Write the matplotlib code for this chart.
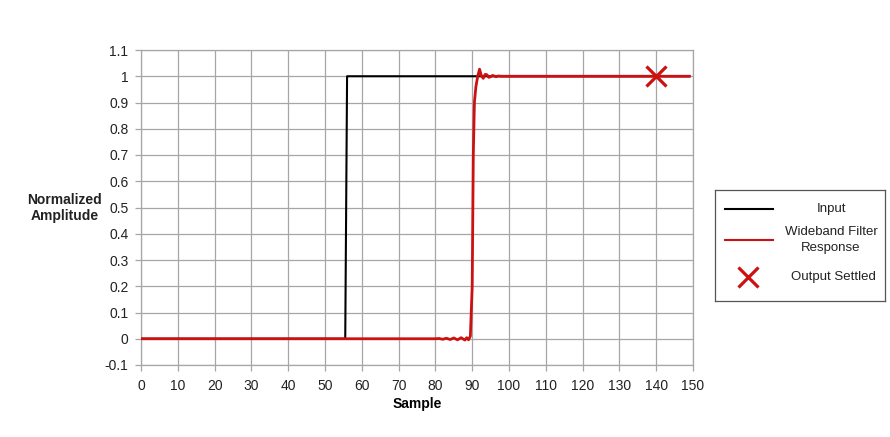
import numpy as np
import matplotlib.pyplot as plt

plt.rcParams['font.family'] = ['Liberation Sans', 'DejaVu Sans']

# input step: 0 up to sample 55.5, 1 from sample 56
input_x = [0, 55.5, 56, 149]
input_y = [0, 0, 1, 1]

# wideband filter response
resp_x = [0, 80, 81, 82, 83, 84, 85, 86, 87, 88, 88.5, 89, 89.5, 90, 90.3, 90.6,
          91, 91.5, 92, 92.5, 93, 93.5, 94, 94.5, 95, 95.5, 96, 96.5, 97, 98, 149]
resp_y = [0, 0, 0.001, -0.002, 0.002, -0.003, 0.003, -0.004, 0.004, -0.005, 0.004,
          -0.004, 0.01, 0.2, 0.7, 0.9, 0.96, 1.0, 1.027, 1.002, 0.992, 1.007, 1.006,
          0.996, 0.998, 1.003, 1.001, 0.998, 1.001, 1.0, 1.0]

settled_x = [140]
settled_y = [1.0]

xticks = np.arange(0, 151, 10)
yticks = np.round(np.arange(-0.1, 1.11, 0.1), 1)
ytick_labels = ['-0.1', '0', '0.1', '0.2', '0.3', '0.4', '0.5', '0.6', '0.7',
                '0.8', '0.9', '1', '1.1']

red = '#cc1111'
grid_c = '#a6a6a6'
fs = 10

fig = plt.figure(figsize=(8.9, 4.37), dpi=100)
ax = fig.add_axes([141/890, 1-365/437, (693-141)/890, (365-50)/437])

ax.plot(input_x, input_y, color='black', lw=1.5, zorder=3)
ax.plot(resp_x, resp_y, color=red, lw=2.0, zorder=4)
ax.plot(settled_x, settled_y, 'x', color=red, ms=15, mew=2.3, zorder=5)

ax.set_xlim(0, 150)
ax.set_ylim(-0.1, 1.1)
ax.set_xticks(xticks)
ax.set_yticks(yticks)
ax.set_yticklabels(ytick_labels)
ax.grid(True, color=grid_c, lw=0.9)
ax.set_axisbelow(True)
for s in ax.spines.values():
    s.set_color(grid_c)
    s.set_linewidth(0.9)
ax.tick_params(colors=grid_c, labelcolor='#222222', labelsize=fs, length=4, width=0.9)
ax.tick_params(axis='x', pad=6)
ax.tick_params(axis='y', pad=5)

ax.set_xlabel('Sample', fontsize=fs, fontweight='bold', labelpad=3)
fig.text(65/890, 1-208/437, 'Normalized\nAmplitude', ha='center', va='center',
         fontsize=fs, fontweight='bold', linespacing=1.15, color='#222222')

# legend box
lg = fig.add_axes([715/890, 1-301/437, 170/890, 111/437])
lg.set_xlim(0, 170)
lg.set_ylim(111, 0)
lg.set_xticks([])
lg.set_yticks([])
for s in lg.spines.values():
    s.set_color('#555555')
    s.set_linewidth(0.9)
lg.plot([10, 58], [19, 19], color='black', lw=1.5)
lg.plot([10, 58], [50, 50], color=red, lw=1.5)
lg.plot([33], [87], 'x', color=red, ms=15, mew=2.3)
lfs = 9.5
lg.text(116, 19, 'Input', ha='center', va='center', fontsize=lfs, color='#222222')
lg.text(116, 50, 'Wideband Filter\nResponse', ha='center', va='center', fontsize=lfs,
        linespacing=1.45, color='#222222')
lg.text(118, 87, 'Output Settled', ha='center', va='center', fontsize=lfs, color='#222222')

fig.savefig('out.png', dpi=100)
